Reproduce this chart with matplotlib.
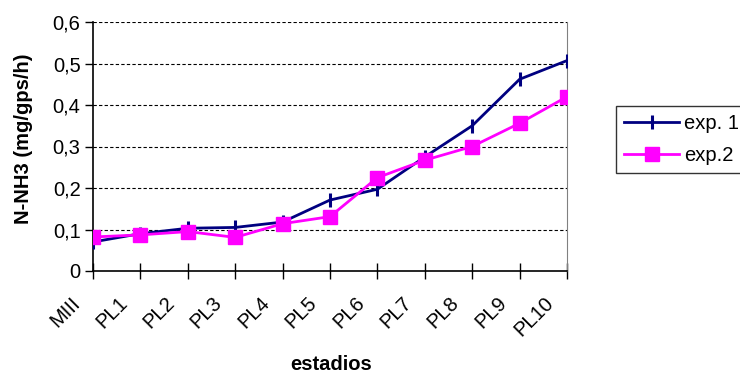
import numpy as np
import matplotlib.pyplot as plt
import matplotlib.transforms as mtransforms

plt.rcParams['font.family'] = ['Liberation Sans', 'DejaVu Sans']

estadios = ['MIII', 'PL1', 'PL2', 'PL3', 'PL4', 'PL5', 'PL6', 'PL7', 'PL8', 'PL9', 'PL10']
exp1 = [0.070, 0.090, 0.103, 0.105, 0.118, 0.171, 0.197, 0.275, 0.350, 0.462, 0.507]
exp2 = [0.082, 0.087, 0.095, 0.081, 0.114, 0.131, 0.225, 0.267, 0.300, 0.356, 0.420]
yticks = [0, 0.1, 0.2, 0.3, 0.4, 0.5, 0.6]
ytick_labels = ['0', '0,1', '0,2', '0,3', '0,4', '0,5', '0,6']

fs = 14.5
fig = plt.figure(figsize=(7.4, 3.73), dpi=100)
ax = fig.add_axes([93/740, 102/373, 474/740, 249/373])

x = np.arange(len(estadios))
ax.plot(x, exp1, color='#000080', lw=2, marker='|', ms=9.5, mew=2.2, label='exp. 1', zorder=3)
ax.plot(x, exp2, color='#FF00FF', lw=2, marker='s', ms=10, label='exp.2', zorder=4)

ax.set_xlim(0, len(estadios) - 1)
ax.set_ylim(0, 0.6)
ax.set_yticks(yticks)
ax.set_yticklabels(ytick_labels, fontsize=fs)
ax.set_xticks(x)
ax.set_xticklabels(estadios, fontsize=fs, rotation=45, ha='right', va='center', rotation_mode='anchor')
ax.tick_params(axis='x', direction='inout', length=12, width=1, pad=15)
ax.tick_params(axis='y', direction='out', length=6, width=1, pad=3)

# shift rotated labels to the left, like the original
shift = mtransforms.ScaledTranslation(-16/100, 0, fig.dpi_scale_trans)
for lbl in ax.get_xticklabels():
    lbl.set_transform(lbl.get_transform() + shift)

for v in yticks[1:]:
    ax.axhline(v, color='black', lw=0.8, ls=(0, (3, 2)), zorder=1)

ax.spines['top'].set_visible(False)
ax.spines['right'].set_color('#808080')
ax.spines['left'].set_linewidth(1.2)
ax.spines['bottom'].set_linewidth(1.2)

fig.text(331/740, 1 - 365/373, 'estadios', fontsize=fs, fontweight='bold', ha='center', va='center')
ax.set_ylabel('N-NH3 (mg/gps/h)', fontsize=fs, fontweight='bold')
ax.yaxis.set_label_coords(-60/474, (271 - 139)/249)

leg = ax.legend(loc='upper left', bbox_to_anchor=(616/740, 1 - 106/373), bbox_transform=fig.transFigure,
                fontsize=fs, frameon=True, fancybox=False, edgecolor='black', handlelength=2.75,
                borderpad=0.4, borderaxespad=0, labelspacing=0.65, handletextpad=0.25)
leg.get_frame().set_linewidth(1)

fig.savefig('out.png', dpi=100)
